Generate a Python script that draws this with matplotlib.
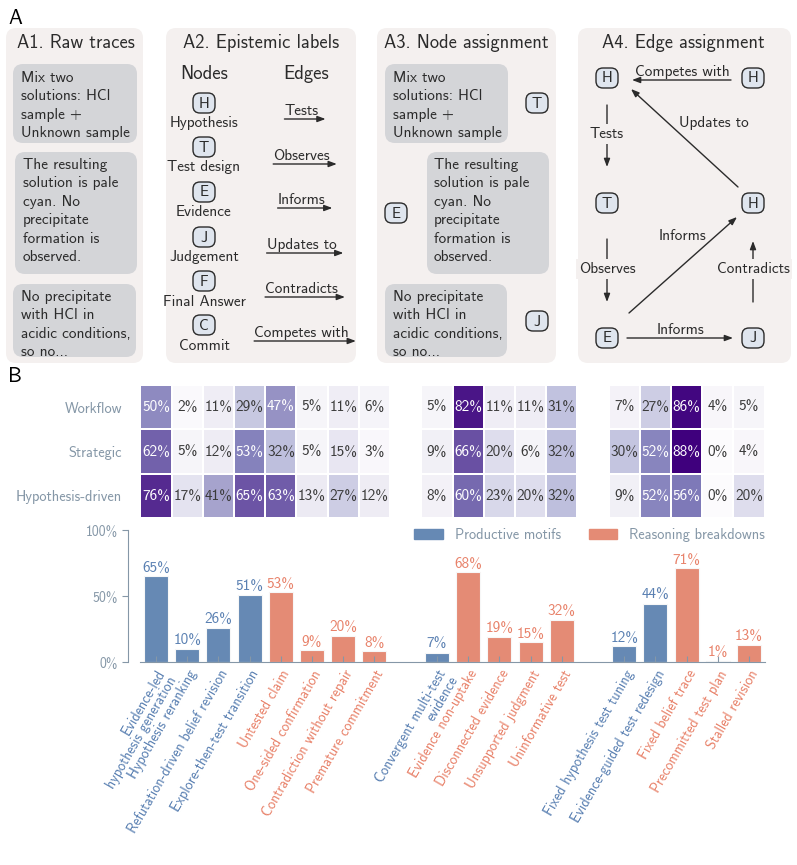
import numpy as np
import matplotlib.pyplot as plt
from matplotlib.patches import FancyBboxPatch, Patch

plt.rcParams['font.family'] = ['cmss10', 'DejaVu Sans']
plt.rcParams['axes.unicode_minus'] = False

# ---------------- data ----------------
rows = ["Workflow", "Strategic", "Hypothesis-driven"]
motifs = ["Evidence-led\nhypothesis generation", "Hypothesis reranking",
          "Refutation-driven belief revision", "Explore-then-test transition",
          "Untested claim", "One-sided confirmation", "Contradiction without repair",
          "Premature commitment",
          "Convergent multi-test\nevidence", "Evidence non-uptake", "Disconnected evidence",
          "Unsupported judgment", "Uninformative test",
          "Fixed hypothesis test tuning", "Evidence-guided test redesign",
          "Fixed belief trace", "Precommitted test plan", "Stalled revision"]
kind = ["P", "P", "P", "P", "B", "B", "B", "B",
        "P", "B", "B", "B", "B",
        "P", "P", "B", "B", "B"]
group_sizes = [8, 5, 5]
overall = [65, 10, 26, 51, 53, 9, 20, 8, 7, 68, 19, 15, 32, 12, 44, 71, 1, 13]
workflow = [50, 2, 11, 29, 47, 5, 11, 6, 5, 82, 11, 11, 31, 7, 27, 86, 4, 5]
strategic = [62, 5, 12, 53, 32, 5, 15, 3, 9, 66, 20, 6, 32, 30, 52, 88, 0, 4]
hypothesis = [76, 17, 41, 65, 63, 13, 27, 12, 8, 60, 23, 20, 32, 9, 52, 56, 0, 20]

trace_1 = ["Mix two", "solutions: HCl", "sample +", "Unknown sample"]
trace_2 = ["The resulting", "solution is pale", "cyan. No", "precipitate",
           "formation is", "observed."]
trace_3 = ["No precipitate", "with HCl in", "acidic conditions,", "so no..."]
node_letters = ["H", "T", "E", "J", "F", "C"]
node_names = ["Hypothesis", "Test design", "Evidence", "Judgement", "Final Answer", "Commit"]
edge_names = ["Tests", "Observes", "Informs", "Updates to", "Contradicts", "Competes with"]

# ---------------- style ----------------
BLUE = "#6689b4"
SALMON = "#e48b75"
BLUE_T = "#5a80b2"
SALMON_T = "#e8826a"
GREY_T = "#8597a7"
PANEL = "#f4f0ef"
TBOX = "#d4d5d8"
BADGE = "#dfe5ee"
DARK = "#2b2b2b"
FS = 11

W, H = 797, 865
fig = plt.figure(figsize=(W / 100, H / 100), dpi=100)

# overlay axes in pixel coords for panel A
ax0 = fig.add_axes([0, 0, 1, 1])
ax0.set_xlim(0, W)
ax0.set_ylim(H, 0)
ax0.axis("off")


def rbox(x0, y0, x1, y1, fc, r=10):
    ax0.add_patch(FancyBboxPatch((x0, y0), x1 - x0, y1 - y0,
                                 boxstyle="round,pad=0,rounding_size=%d" % r,
                                 fc=fc, ec="none", zorder=1))


def badge(x, y, letter):
    ax0.add_patch(FancyBboxPatch((x - 11, y - 10), 22, 20,
                                 boxstyle="round,pad=0,rounding_size=7",
                                 fc=BADGE, ec=DARK, lw=1, zorder=3))
    ax0.text(x, y + 0.5, letter, ha="center", va="center", fontsize=FS,
             color=DARK, zorder=4)


def lines(x, y0, items, step=18.4):
    for k, s in enumerate(items):
        ax0.text(x, y0 + k * step, s, ha="left", va="center", fontsize=FS,
                 color=DARK, zorder=3)


def arrow(x0, y0, x1, y1):
    ax0.annotate("", xy=(x1, y1), xytext=(x0, y0),
                 arrowprops=dict(arrowstyle="-|>,head_length=0.4,head_width=0.15",
                                 color=DARK, lw=1, shrinkA=0, shrinkB=0,
                                 mutation_scale=12), zorder=3)


def label(x, y, s, bg=False):
    kw = dict(ha="center", va="center", fontsize=FS, color=DARK, zorder=4)
    if bg:
        kw["bbox"] = dict(fc=PANEL, ec="none", pad=2)
    ax0.text(x, y, s, **kw)


ax0.text(8, 18, "A", fontsize=15, ha="left", va="center", color="black")
ax0.text(8, 377, "B", fontsize=15, ha="left", va="center", color="black")

# panels
rbox(6, 28, 143, 363, PANEL)
rbox(166, 28, 356, 363, PANEL)
rbox(377, 28, 556, 363, PANEL)
rbox(578, 28, 791, 363, PANEL)
for x, t in [(76, "A1. Raw traces"), (261, "A2. Epistemic labels"),
             (466, "A3. Node assignment"), (683, "A4. Edge assignment")]:
    ax0.text(x, 43, t, ha="center", va="center", fontsize=13.3, color=DARK)

# A1
rbox(13, 64, 137, 143, TBOX)
rbox(15, 152, 137, 274, TBOX)
rbox(13, 284, 136, 357, TBOX)
lines(21, 78, trace_1)
lines(23, 165, trace_2)
lines(21, 297, trace_3)

# A2
ax0.text(204, 74, "Nodes", ha="center", va="center", fontsize=13.5, color=DARK)
ax0.text(306, 74, "Edges", ha="center", va="center", fontsize=13.5, color=DARK)
node_y = [103, 147, 192, 237, 281, 325]
for k in range(len(node_letters)):
    badge(204, node_y[k], node_letters[k])
    ax0.text(204, node_y[k] + 20.5, node_names[k], ha="center", va="center",
             fontsize=FS, color=DARK)
edge_y = [111, 156, 200, 245, 289, 333]
edge_texts = []
for k, s in enumerate(edge_names):
    edge_texts.append(ax0.text(301.5, edge_y[k], s, ha="center", va="center",
                               fontsize=FS, color=DARK))

# A3
rbox(385, 64, 508, 143, TBOX)
rbox(427, 152, 549, 274, TBOX)
rbox(385, 284, 507, 357, TBOX)
lines(393, 78, trace_1)
lines(434, 165, trace_2)
lines(393, 297, trace_3)
badge(537, 103, "T")
badge(396, 213, "E")
badge(537, 321, "J")

# A4
for x, y, s in [(607, 78, "H"), (753, 78, "H"), (607, 203, "T"),
                (753, 203, "H"), (607, 338, "E"), (753, 338, "J")]:
    badge(x, y, s)
arrow(731, 80, 632, 80)
label(682, 72, "Competes with")
arrow(738, 187, 631, 89)
label(714, 123, "Updates to")
arrow(607, 105, 607, 167)
label(607, 134, "Tests", bg=True)
arrow(607, 239, 607, 302)
label(607, 269, "Observes", bg=True)
arrow(629, 313, 737, 217)
label(683, 236, "Informs")
arrow(627, 338, 733, 338)
label(681, 330, "Informs")
arrow(753, 302, 753, 241)
label(753, 269, "Contradicts", bg=True)

# ---------------- panel B ----------------
pos = []
start = 0
for g in group_sizes:
    pos += list(range(start, start + g))
    start += g + 1
pos = np.array(pos)
ncols = start - 1

left = 140.4 / W
width = (764.6 - 140.4) / W

# heatmap
axh = fig.add_axes([left, 347 / H, width, 133 / H])
mat = np.full((3, ncols), np.nan)
for r, vals in enumerate([workflow, strategic, hypothesis]):
    mat[r, pos] = np.array(vals) / 100.0
vmax = np.nanmax(mat)
axh.pcolormesh(np.arange(ncols + 1) - 0.5, np.arange(4), np.ma.masked_invalid(mat),
               cmap="Purples", vmin=0, vmax=vmax, edgecolors="white", linewidth=1.2)
for r, vals in enumerate([workflow, strategic, hypothesis]):
    for p, v in zip(pos, vals):
        axh.text(p, r + 0.5, "%d%%" % v, ha="center", va="center", fontsize=FS,
                 color="white" if v >= 45 else "#3a3a3a")
axh.set_xlim(-0.5, ncols - 0.5)
axh.set_ylim(3, 0)
axh.set_xticks([])
axh.set_yticks([0.5, 1.5, 2.5])
axh.set_yticklabels(rows, fontsize=10.4, color=GREY_T)
axh.tick_params(axis="y", length=0, pad=13, labelcolor=GREY_T)
for s in axh.spines.values():
    s.set_visible(False)

# bars
axb = fig.add_axes([left, 203 / H, width, 132 / H])
cols = [BLUE if k == "P" else SALMON for k in kind]
tcols = [BLUE_T if k == "P" else SALMON_T for k in kind]
axb.bar(pos, overall, width=0.77, color=cols, edgecolor="#f7f7f7", linewidth=0.8)
for p, v, c in zip(pos, overall, tcols):
    axb.text(p, v + 1.2, "%d%%" % v, ha="center", va="bottom", fontsize=FS, color=c)
axb.set_xlim(-0.5, ncols - 0.5)
axb.set_ylim(0, 100)
axb.set_yticks([0, 50, 100])
axb.set_yticklabels(["0%", "50%", "100%"], fontsize=FS)
axb.set_xticks(pos)
axb.set_xticklabels(motifs, rotation=60, ha="right", rotation_mode="anchor",
                    fontsize=10.2, linespacing=0.92)
for t, c in zip(axb.get_xticklabels(), tcols):
    t.set_color(c)
axb.tick_params(axis="x", direction="in", length=4, color=GREY_T, pad=4)
axb.tick_params(axis="y", direction="out", length=4, color=GREY_T, labelcolor=GREY_T)
for s in ["top", "right"]:
    axb.spines[s].set_visible(False)
axb.spines["left"].set_position(("outward", 9))
axb.spines["left"].set_bounds(0, 100)
axb.spines["left"].set_color(GREY_T)
axb.spines["bottom"].set_color(GREY_T)
axb.patch.set_alpha(0)
axb.legend(handles=[Patch(color=BLUE, label="Productive motifs"),
                    Patch(color=SALMON, label="Reasoning breakdowns")],
           loc="center right", bbox_to_anchor=(1.0096, 0.962), ncol=2, frameon=False,
           fontsize=10.4, labelcolor=GREY_T, handlelength=1.95, handleheight=0.7,
           handletextpad=0.83, columnspacing=1.94, borderaxespad=0)

# underline arrows for A2 edges (need text extents)
fig.canvas.draw()
inv = ax0.transData.inverted()
for t in edge_texts:
    bb = t.get_window_extent()
    (xa, ya), (xb, yb) = inv.transform([[bb.x0, bb.y0], [bb.x1, bb.y1]])
    arrow(xa, ya + 1, xb + 7, ya + 1)

fig.savefig("out.png", dpi=100)
